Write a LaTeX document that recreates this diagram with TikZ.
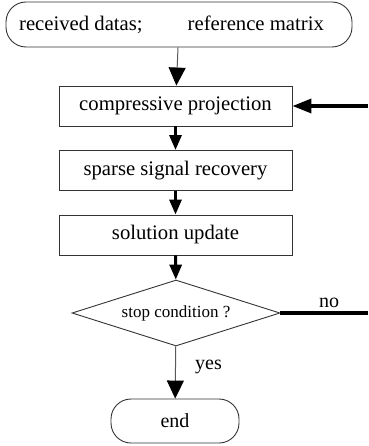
\documentclass[tikz,border=0pt]{standalone}
\usepackage{fontspec}
\setmainfont{Liberation Serif}
\usetikzlibrary{shapes.geometric,arrows.meta}

\begin{document}
\begin{tikzpicture}[x=1pt,y=-1pt,font=\fontsize{20.7}{24}\selectfont,
  stepbox/.style={draw=black!80,line width=0.9pt,minimum width=233pt,minimum height=40pt,inner sep=0pt},
  termbox/.style={draw=black!80,line width=0.9pt,rounded corners=20pt,inner sep=0pt},
  thinarr/.style={draw=black!65,line width=1pt,-{Triangle[length=18pt,width=17pt,black]}},
  midarr/.style={line width=3pt,-{Triangle[length=15pt,width=12pt]}},
  fbline/.style={line width=3.5pt}]
  \useasboundingbox (0,0) rectangle (368,446);
  % steps centred on x = 175.5 ; rows at y = 24.5, 106, 170.5, 235, 313, 421
  \node[termbox,minimum width=346pt,minimum height=45pt] (start) at (179,24.5) {received datas;\hspace{45pt}reference matrix\hspace*{15pt}};
  \node[stepbox] (proj) at (175.5,106) {compressive projection};
  \node[stepbox] (recov) at (175.5,170.5) {sparse signal recovery};
  \node[stepbox] (update) at (175.5,235) {solution update};
  \node[diamond,aspect=3.15,draw=black!80,line width=0.9pt,minimum width=208pt,minimum height=66pt,inner sep=0pt,
        font=\fontsize{17}{20}\selectfont] (cond) at (176,313) {stop condition ?};
  \node[termbox,minimum width=128pt,minimum height=44pt,font=\fontsize{20}{24}\selectfont] (stop) at (175,421) {end};
  \coordinate (fbin) at (368,106);
  \coordinate (noout) at (368,313);
  % arrows
  \draw[thinarr] (start) -- (proj);
  \draw[midarr] (proj) -- (recov);
  \draw[midarr] (recov) -- (update);
  \draw[midarr] (update) -- (cond);
  \draw[thinarr] (cond) -- (stop);
  \draw[fbline,-{Triangle[length=19pt,width=14pt]}] (fbin) -- (proj);
  \draw[fbline] (cond.east) -- (noout);
  \node[anchor=base,font=\fontsize{20}{24}\selectfont] (nolab) at (329,307) {no};
  \node[anchor=base west,inner sep=0pt,font=\fontsize{20}{24}\selectfont] (yeslab) at (195,369) {yes};
\end{tikzpicture}
\end{document}
